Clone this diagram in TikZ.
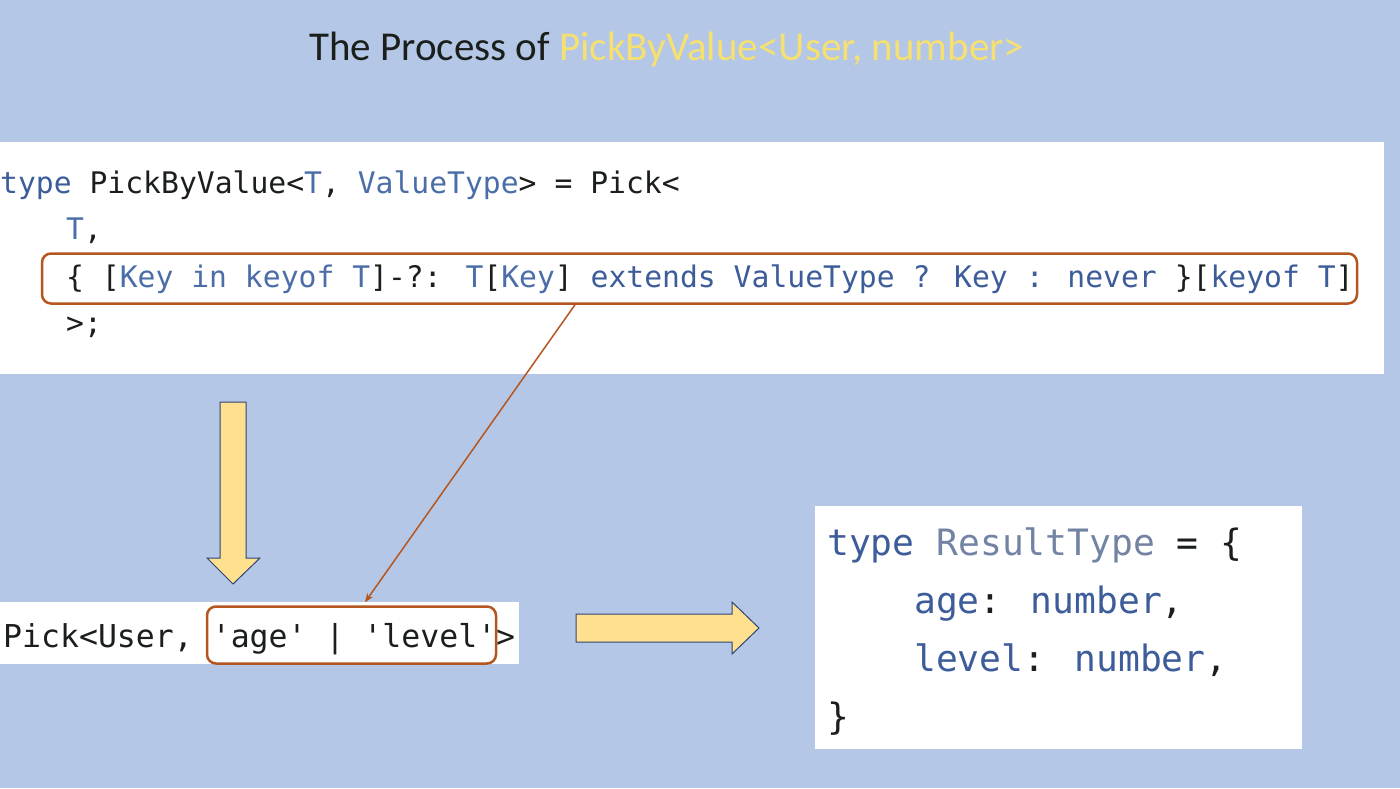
\documentclass[tikz,border=0pt]{standalone}
\usepackage{fontspec}
\setmainfont{Carlito}
\newfontfamily\codefont{DejaVu Sans Mono}
\usetikzlibrary{arrows.meta,calc}
\definecolor{bg}{HTML}{B4C7E7}
\definecolor{kw}{HTML}{3D5C9A}
\definecolor{tp}{HTML}{4B6EA8}
\definecolor{rt}{HTML}{7283A3}
\definecolor{ink}{HTML}{1A1F1C}
\definecolor{ttl}{HTML}{F6E170}
\definecolor{hlc}{HTML}{B4561F}
\definecolor{arrfill}{HTML}{FFE08E}
\definecolor{arrline}{HTML}{2E4477}
\tikzset{
  codeA/.style={font=\codefont\fontsize{29.7}{36}\selectfont, text=ink, inner sep=0, anchor=base west},
  codeB/.style={font=\codefont\fontsize{31.5}{38}\selectfont, text=ink, inner sep=0, anchor=base west},
  codeC/.style={font=\codefont\fontsize{36.3}{44}\selectfont, text=ink, inner sep=0, anchor=base west},
  panel/.style={fill=white, inner sep=0, anchor=north west},
  hlbox/.style={draw=hlc, line width=2.5pt, rounded corners=9pt, inner sep=0},
  conn/.style={draw=hlc, line width=1.5pt, -{Stealth[length=9pt,width=7pt]}},
  blockarrow/.style={fill=arrfill, draw=arrline, line width=1pt, line join=miter}
}
\begin{document}
\begin{tikzpicture}[x=1pt,y=-1pt]
\useasboundingbox (0,0) rectangle (1400,788);
\fill[bg] (0,0) rectangle (1400,788);

% title
\node[anchor=base west, inner sep=0, text=ink, font=\fontsize{41}{49}\selectfont] (title) at (309,60)
  {The Process of \textcolor{ttl}{PickByValue<User, number>}};

% top code panel
\node[panel, minimum width=1384pt, minimum height=232pt] (codebox) at (0,142) {};
\node[codeA] (l1) at (0,193) {\textcolor{kw}{type} PickByValue<\textcolor{tp}{T}, \textcolor{tp}{ValueType}> = Pick<};
\node[codeA] (l2) at (66,239) {\textcolor{tp}{T},};
\node[codeA] (l3) at (66,287) {\{ [\textcolor{tp}{Key in keyof T}]-?: \textcolor{tp}{T}[\textcolor{tp}{Key}] \textcolor{kw}{extends ValueType ? Key : never} \}[\textcolor{kw}{keyof T}]};
\node[codeA] (l4) at (66,333) {>;};
\node[hlbox, minimum width=1315pt, minimum height=50pt] (hl1) at (699.5,278.5) {};

% bottom-left panel
\node[panel, minimum width=519pt, minimum height=62pt] (pickbox) at (0,602) {};
\node[codeB] (pick) at (3,647) {Pick<User, \textquotesingle age\textquotesingle{} | \textquotesingle level\textquotesingle>};
\node[hlbox, minimum width=289pt, minimum height=57pt] (hl2) at (351.5,635) {};

% connector
\draw[conn] ($(hl1.south)+(-124.5,0)$) -- ($(hl2.north)+(13.5,-3)$);

% block arrows
\draw[blockarrow] (220,402) -- (246,402) -- (246,558) -- (260,558) -- (233,584) -- (207,558) -- (220,558) -- cycle;
\draw[blockarrow] (576,614) -- (732,614) -- (732,602) -- (759,628) -- (732,654) -- (732,642) -- (576,642) -- cycle;

% result panel
\node[panel, minimum width=487pt, minimum height=243pt] (resbox) at (815,506) {};
\node[codeC] (r1) at (827,555) {\textcolor{kw}{type} \textcolor{rt}{ResultType} = \{};
\node[codeC] (r2) at (914,613) {\textcolor{kw}{age}: \textcolor{kw}{number},};
\node[codeC] (r3) at (914,671) {\textcolor{kw}{level}: \textcolor{kw}{number},};
\node[codeC] (r4) at (827,729) {\}};
\end{tikzpicture}
\end{document}
